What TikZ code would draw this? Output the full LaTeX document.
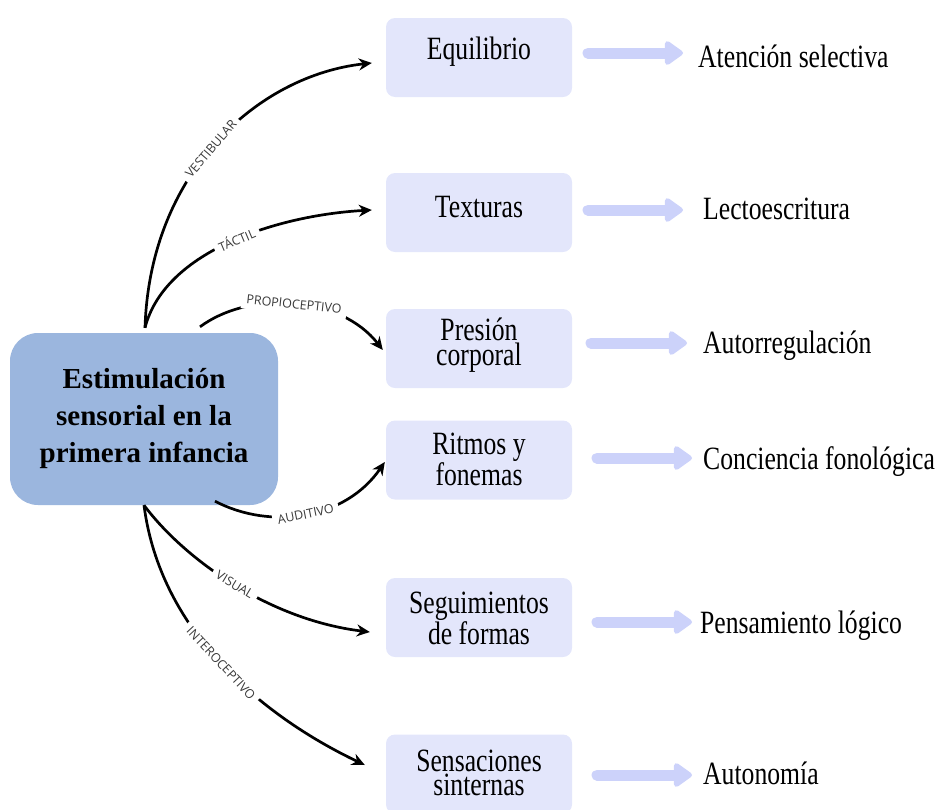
\documentclass[tikz,border=0pt]{standalone}
\usepackage{fontspec}
\setmainfont{Liberation Serif}
\newfontfamily\condfont[FakeStretch=0.79]{Liberation Serif}
\newfontfamily\labfont{Open Sans}
\usetikzlibrary{arrows.meta,calc}
\definecolor{centerfill}{HTML}{9BB6DE}
\definecolor{boxfill}{HTML}{E3E6FB}
\definecolor{arrowfill}{HTML}{CCD2FA}
\definecolor{labgray}{HTML}{3A3A3A}
\tikzset{
  centerbox/.style={fill=centerfill, draw=none, rounded corners=28pt, minimum width=268pt, minimum height=172pt, align=center, inner sep=0pt, font=\fontsize{29}{37}\selectfont\bfseries},
  sensebox/.style={fill=boxfill, draw=none, rounded corners=9pt, minimum width=186pt, minimum height=79pt, align=center, inner sep=0pt, font=\condfont\fontsize{32.5}{24.5}\selectfont},
  sensetext/.style={align=center, inner sep=0pt, font=\condfont\fontsize{32.5}{24.5}\selectfont},
  resulttext/.style={anchor=base west, inner sep=0pt, font=\condfont\fontsize{32.5}{25}\selectfont},
  branch/.style={line width=2.7pt, -{Stealth[length=13pt,width=12pt]}},
  branchlabel/.style={fill=white, inner sep=5pt, sloped, text=labgray, font=\labfont\fontsize{12.5}{13}\selectfont},
  bigarrow/.style={draw=arrowfill, line width=11pt, line cap=round, -{Triangle[length=20pt,width=27pt,round]}}
}
\begin{document}
\begin{tikzpicture}[x=1pt,y=-1pt]
\useasboundingbox (0,0) rectangle (947,809);
\clip (0,0) rectangle (947,809);

% central node
\node[centerbox] (c) at (144,419) {Estimulación\\sensorial en la\\primera infancia};

% sense boxes
\node[sensebox] (b1) at (479,57.5) {};
\node[sensebox] (b2) at (479,212.5) {};
\node[sensebox] (b3) at (479,348.5) {};
\node[sensebox] (b4) at (479,460) {};
\node[sensebox] (b5) at (479,617.5) {};
\node[sensebox] (b6) at (479,774) {};
\node[sensetext] (s1) at (479,52) {Equilibrio};
\node[sensetext] (s2) at (479,207) {Texturas};
\node[sensetext] (s3) at (479,345) {Presión\\corporal};
\node[sensetext] (s4) at (479,459) {Ritmos y\\fonemas};
\node[sensetext] (s5) at (479,618) {Seguimientos\\de formas};
\node[sensetext] (s6) at (479,773) {Sensaciones\\sinternas};

% result texts
\node[resulttext] (t1) at (698,67) {Atención selectiva};
\node[resulttext] (t2) at (703,219) {Lectoescritura};
\node[resulttext] (t3) at (703,353) {Autorregulación};
\node[resulttext] (t4) at (703,469) {Conciencia fonológica};
\node[resulttext] (t5) at (700,633) {Pensamiento lógico};
\node[resulttext] (t6) at (703,784) {Autonomía};

% big arrows
\coordinate (a1s) at (588,53);  \coordinate (a1e) at (683,53);
\coordinate (a2s) at (588,210); \coordinate (a2e) at (683,210);
\coordinate (a3s) at (591,343); \coordinate (a3e) at (687,343);
\coordinate (a4s) at (597,458); \coordinate (a4e) at (692,458);
\coordinate (a5s) at (597,622); \coordinate (a5e) at (692,622);
\coordinate (a6s) at (597,775); \coordinate (a6e) at (692,775);
\foreach \i in {1,...,6}{
  \draw[bigarrow] (a\i s) -- (a\i e);
}

% branches
\draw[branch] ($(c.north)+(1,-5)$) .. controls (150,170) and (260,75) .. ($(b1.west)+(-14,5.5)$)
  node[branchlabel, pos=0.47] {VESTIBULAR};
\draw[branch] ($(c.north)+(1,-5)$) .. controls (165,250) and (280,215) .. ($(b2.west)+(-14,-2.5)$)
  node[branchlabel, pos=0.52] {TÁCTIL};
\draw[branch] ($(c.north)+(56,-6)$) .. controls (250,290) and (340,295) .. ($(b3.west)+(-3,1.5)$)
  node[branchlabel, pos=0.5] {PROPIOCEPTIVO};
\draw[branch] ($(c.south)+(71,-4)$) .. controls (270,530) and (345,520) .. ($(b4.west)+(-1,2)$)
  node[branchlabel, pos=0.5] {AUDITIVO};
\draw[branch] ($(c.south)+(0,0)$) .. controls (185,560) and (270,620) .. ($(b5.west)+(-16,14.5)$)
  node[branchlabel, pos=0.5] {VISUAL};
\draw[branch] ($(c.south)+(0,0)$) .. controls (160,630) and (260,715) .. ($(b6.west)+(-21,-9)$)
  node[branchlabel, pos=0.5] {INTEROCEPTIVO};
\end{tikzpicture}
\end{document}
